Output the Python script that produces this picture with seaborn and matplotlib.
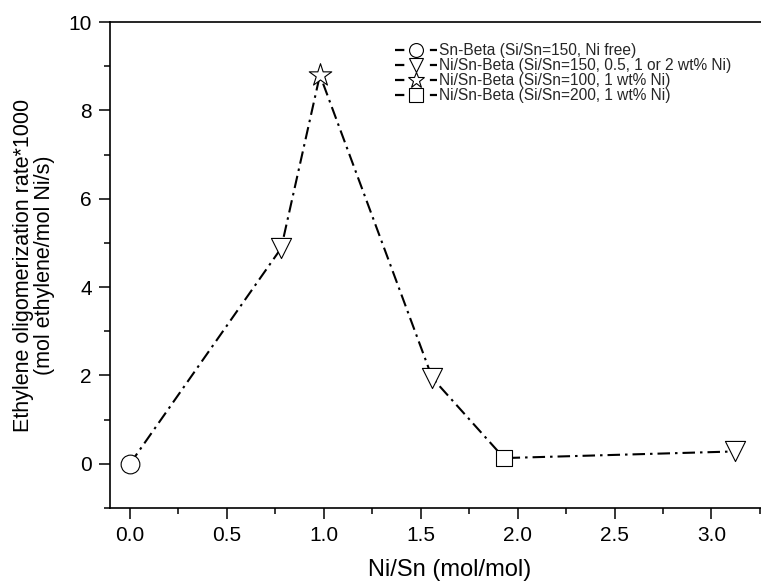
import matplotlib
matplotlib.use("Agg")
import matplotlib.pyplot as plt
from matplotlib.lines import Line2D
from matplotlib.ticker import MultipleLocator
import seaborn as sns
import pandas as pd

# ---- data ----
ni_sn = [0.0, 0.78, 0.98, 1.56, 1.93, 3.12]
rate = [0.0, 4.88, 8.80, 1.94, 0.13, 0.28]
catalyst = ["Sn-Beta (Si/Sn=150, Ni free)",
            "Ni/Sn-Beta (Si/Sn=150, 0.5, 1 or 2 wt% Ni)",
            "Ni/Sn-Beta (Si/Sn=100, 1 wt% Ni)",
            "Ni/Sn-Beta (Si/Sn=150, 0.5, 1 or 2 wt% Ni)",
            "Ni/Sn-Beta (Si/Sn=200, 1 wt% Ni)",
            "Ni/Sn-Beta (Si/Sn=150, 0.5, 1 or 2 wt% Ni)"]
legend_order = ["Sn-Beta (Si/Sn=150, Ni free)",
                "Ni/Sn-Beta (Si/Sn=150, 0.5, 1 or 2 wt% Ni)",
                "Ni/Sn-Beta (Si/Sn=100, 1 wt% Ni)",
                "Ni/Sn-Beta (Si/Sn=200, 1 wt% Ni)"]
x_ticks = [0.0, 0.5, 1.0, 1.5, 2.0, 2.5, 3.0]
y_ticks = [0, 2, 4, 6, 8, 10]

df = pd.DataFrame({"x": ni_sn, "y": rate, "cat": catalyst})

sns.set_theme(style="white")
plt.rcParams["font.family"] = ["Liberation Sans", "DejaVu Sans"]

fig = plt.figure(figsize=(7.61, 5.87), dpi=100)
ax = fig.add_axes([110 / 761, 79 / 587, (790 - 110) / 761, (508 - 22) / 587])

dash = (0, (6.0, 2.4, 1.2, 2.4))
marker_map = {legend_order[0]: "o", legend_order[1]: "v",
              legend_order[2]: "*", legend_order[3]: "s"}
size_map = {legend_order[0]: 13.5, legend_order[1]: 14.5,
            legend_order[2]: 17.0, legend_order[3]: 12.2}
leg_size = {legend_order[0]: 10.0, legend_order[1]: 10.5,
            legend_order[2]: 12.0, legend_order[3]: 10.0}

sns.lineplot(data=df, x="x", y="y", sort=False, color="black", lw=1.5,
             linestyle=dash, ax=ax, zorder=2, estimator=None)

for cat in legend_order:
    sub = df[df["cat"] == cat]
    sns.scatterplot(data=sub, x="x", y="y", marker=marker_map[cat],
                    s=size_map[cat] ** 2, facecolor="white", edgecolor="black",
                    linewidth=0.8, ax=ax, zorder=3, legend=False)

ax.set_xlim(-0.103, 3.405)
ax.set_ylim(-1, 10)
ax.set_xticks(x_ticks)
ax.set_xticklabels([f"{v:.1f}" for v in x_ticks])
ax.set_yticks(y_ticks)
ax.xaxis.set_minor_locator(MultipleLocator(0.25))
ax.yaxis.set_minor_locator(MultipleLocator(1))
ax.tick_params(axis="both", which="major", direction="out", length=8, width=1.1,
               labelsize=15, color="black", labelcolor="black",
               bottom=True, left=True, top=False, right=False, pad=5)
ax.tick_params(axis="both", which="minor", direction="out", length=4, width=1.1,
               color="black", bottom=True, left=True, top=False, right=False)

for side in ["left", "bottom", "top"]:
    ax.spines[side].set_visible(True)
    ax.spines[side].set_color("black")
    ax.spines[side].set_linewidth(1.2)
ax.spines["right"].set_visible(False)
ax.grid(False)

ax.set_xlabel("Ni/Sn (mol/mol)", fontsize=17, color="black", labelpad=10)
ax.set_ylabel("Ethylene oligomerization rate*1000\n(mol ethylene/mol Ni/s)",
              fontsize=15.5, color="black", labelpad=10, linespacing=1.0)

handles = [Line2D([0], [0], color="black", lw=1.6, linestyle=(0, (4.2, 11.5)),
                  marker=marker_map[c], markersize=leg_size[c],
                  markerfacecolor="white", markeredgecolor="black",
                  markeredgewidth=0.8)
           for c in legend_order]
ax.legend(handles, legend_order, loc="upper left",
          bbox_to_anchor=(395 / 761, 1 - 43 / 587), bbox_transform=fig.transFigure,
          frameon=False, fontsize=11.2, labelspacing=0.0, handlelength=2.7,
          handletextpad=0.15, borderpad=0, borderaxespad=0)

fig.savefig("out.png", dpi=100)
